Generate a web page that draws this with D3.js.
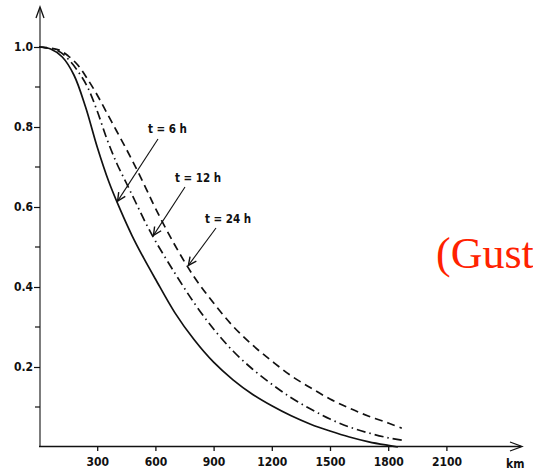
<!DOCTYPE html>
<html>
<head>
<meta charset="utf-8">
<script src="https://cdn.jsdelivr.net/npm/d3@7"></script>
<style>
  body { margin: 0; background: #fff; }
  svg { display: block; }
  .tick text { font-family: "DejaVu Sans Condensed", "DejaVu Sans", sans-serif; font-weight: bold; font-size: 12px; fill: #111; }
</style>
</head>
<body>
<div id="viz"></div>
<script>
// distance in km along the x axis
const km6 = [0, 60, 120, 180, 240, 300, 360, 420, 480, 540, 600, 700, 800, 900, 1000, 1100, 1200, 1300, 1400, 1500, 1600, 1700, 1800, 1850];
const val6 = [1.0, 0.995, 0.975, 0.93, 0.85, 0.75, 0.663, 0.592, 0.528, 0.472, 0.42, 0.336, 0.268, 0.212, 0.168, 0.132, 0.103, 0.078, 0.057, 0.04, 0.025, 0.013, 0.004, 0.0];

const km12 = [0, 100, 150, 200, 250, 300, 350, 400, 450, 500, 550, 600, 700, 800, 900, 1000, 1100, 1200, 1300, 1400, 1500, 1600, 1700, 1800, 1870];
const val12 = [1.0, 0.99, 0.97, 0.94, 0.90, 0.84, 0.77, 0.71, 0.66, 0.61, 0.56, 0.515, 0.435, 0.36, 0.295, 0.24, 0.195, 0.157, 0.123, 0.095, 0.07, 0.05, 0.035, 0.023, 0.017];

const km24 = [0, 100, 150, 200, 250, 300, 350, 400, 450, 500, 550, 600, 700, 800, 900, 1000, 1100, 1200, 1300, 1400, 1500, 1600, 1700, 1800, 1870];
const val24 = [1.0, 0.993, 0.978, 0.955, 0.92, 0.88, 0.835, 0.79, 0.745, 0.698, 0.648, 0.597, 0.505, 0.425, 0.36, 0.302, 0.255, 0.215, 0.178, 0.148, 0.12, 0.097, 0.077, 0.06, 0.047];

const xTicks = [300, 600, 900, 1200, 1500, 1800, 2100];
const yTicks = [0.2, 0.4, 0.6, 0.8, 1.0];
const yMinor = [0.1, 0.3, 0.5, 0.7, 0.9];

// labels and the km where each arrow hits its curve
const labels = ["t = 6 h", "t = 12 h", "t = 24 h"];
const arrowKm = [405, 590, 770];

const W = 533, H = 472;

const svg = d3.select("#viz").append("svg")
    .attr("width", W)
    .attr("height", H);

const x = d3.scaleLinear().domain([0, 2100]).range([39, 446.4]);
const y = d3.scaleLinear().domain([0, 1]).range([447, 47]);

const ink = "#111";

// axes
const xAxis = svg.append("g")
    .attr("transform", `translate(0,${y(0)})`)
    .call(d3.axisBottom(x).tickValues(xTicks).tickSize(4).tickPadding(6).tickFormat(d3.format("d")));
xAxis.select(".domain").remove();
xAxis.selectAll(".tick line").attr("stroke", ink).attr("stroke-width", 1.3);

const yAxis = svg.append("g")
    .attr("transform", `translate(${x(0) + 1},0)`)
    .call(d3.axisLeft(y).tickValues(yTicks).tickSize(6).tickPadding(1).tickFormat(d3.format(".1f")));
yAxis.select(".domain").remove();
yAxis.selectAll(".tick line").attr("stroke", ink).attr("stroke-width", 1.2);

// minor y ticks
svg.append("g").selectAll("line")
    .data(yMinor)
    .join("line")
    .attr("x1", x(0) - 4).attr("x2", x(0) + 1)
    .attr("y1", d => y(d)).attr("y2", d => y(d))
    .attr("stroke", ink).attr("stroke-width", 1.2);

// axis lines with open arrow heads
svg.append("line")
    .attr("x1", x(0) + 1).attr("y1", y(0))
    .attr("x2", x(0) + 1).attr("y2", 8)
    .attr("stroke", ink).attr("stroke-width", 1.1);
svg.append("path")
    .attr("d", `M${x(0) - 3},18 L${x(0) + 1},7 L${x(0) + 5},18`)
    .attr("fill", "none").attr("stroke", ink).attr("stroke-width", 1.3);

svg.append("line")
    .attr("x1", x(0)).attr("y1", y(0) - 0.5)
    .attr("x2", 521).attr("y2", y(0) - 0.5)
    .attr("stroke", ink).attr("stroke-width", 1.3);
svg.append("path")
    .attr("d", `M510,${y(0) - 5} L522,${y(0) - 0.5} L510,${y(0) + 4}`)
    .attr("fill", "none").attr("stroke", ink).attr("stroke-width", 1.3);

svg.append("text")
    .attr("x", 506).attr("y", 468)
    .attr("font-family", "DejaVu Sans Condensed, DejaVu Sans, sans-serif")
    .attr("font-weight", "bold")
    .attr("font-size", 12)
    .attr("fill", ink)
    .text("km");

// curves
const series = [
    { km: km6, val: val6, dash: null },
    { km: km12, val: val12, dash: "9,4,1.5,4" },
    { km: km24, val: val24, dash: "8,5" }
];

const line = d3.line()
    .x(d => x(d[0]))
    .y(d => y(d[1]))
    .curve(d3.curveCatmullRom.alpha(0.5));

series.forEach(s => {
    const pts = s.km.map((k, i) => [k, s.val[i]]);
    svg.append("path")
        .datum(pts)
        .attr("d", line)
        .attr("fill", "none")
        .attr("stroke", ink)
        .attr("stroke-width", 1.7)
        .attr("stroke-dasharray", s.dash);
});

// value of a series at some km (linear between read points)
const valueAt = (s, k) => {
    const i = d3.bisectLeft(s.km, k);
    const t = (k - s.km[i - 1]) / (s.km[i] - s.km[i - 1]);
    return s.val[i - 1] + t * (s.val[i] - s.val[i - 1]);
};

// labels with arrows
const labelPos = [[148, 133], [175, 182], [205, 223]];
const tailPos = [[158, 139], [185, 187], [216, 228]];

labels.forEach((lab, i) => {
    const tx = x(arrowKm[i]);
    const ty = y(valueAt(series[i], arrowKm[i])) - 2;
    const [sx, sy] = tailPos[i];

    svg.append("text")
        .attr("x", labelPos[i][0]).attr("y", labelPos[i][1])
        .attr("font-family", "DejaVu Sans Condensed, DejaVu Sans, sans-serif")
        .attr("font-weight", "bold")
        .attr("font-size", 11.5)
        .attr("fill", ink)
        .text(lab);

    svg.append("line")
        .attr("x1", sx).attr("y1", sy)
        .attr("x2", tx).attr("y2", ty)
        .attr("stroke", ink).attr("stroke-width", 1.1);

    const a = Math.atan2(ty - sy, tx - sx);
    const len = 9, spread = 0.45;
    const p1 = [tx - len * Math.cos(a - spread), ty - len * Math.sin(a - spread)];
    const p2 = [tx - len * Math.cos(a + spread), ty - len * Math.sin(a + spread)];
    svg.append("path")
        .attr("d", `M${p1[0]},${p1[1]} L${tx},${ty} L${p2[0]},${p2[1]}`)
        .attr("fill", "none").attr("stroke", ink).attr("stroke-width", 1.4);
});

// red source note, cut at the right edge
svg.append("text")
    .attr("x", 436).attr("y", 268)
    .attr("font-family", "Liberation Serif, Times New Roman, serif")
    .attr("font-size", 44)
    .attr("fill", "#ff2200")
    .text("(Gust");
</script>
</body>
</html>
